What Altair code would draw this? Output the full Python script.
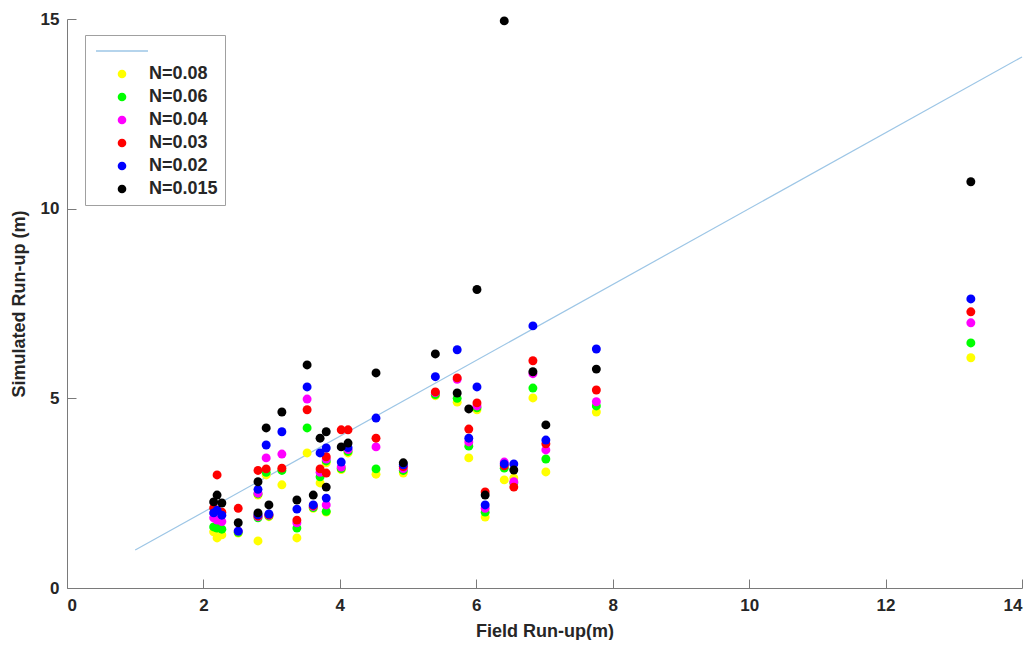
import altair as alt
import pandas as pd

# Field run-up (m) for each site
field_x = [2.15, 2.20, 2.27, 2.51, 2.80, 2.80, 2.92, 2.96, 3.15, 3.37, 3.52, 3.61, 3.71, 3.80, 3.80,
           4.02, 4.12, 4.53, 4.93, 5.40, 5.72, 5.89, 6.01, 6.13, 6.41, 6.55, 6.83, 7.02, 7.76, 13.25]

# Simulated run-up (m) for each Manning N
n_008 = [1.48, 1.32, 1.40, 1.45, 2.45, 1.24, 2.98, 1.88, 2.72, 1.32, 3.56, 2.10, 2.77, 3.30, 2.00,
         3.12, 3.56, 3.00, 3.03, 5.07, 4.90, 3.43, 4.70, 1.87, 2.85, 2.90, 5.01, 3.06, 4.64, 6.07]
n_006 = [1.61, 1.58, 1.55, 1.47, 2.48, 1.85, 3.05, 1.90, 3.10, 1.58, 4.22, 2.12, 2.93, 3.35, 2.02,
         3.15, 3.60, 3.14, 3.10, 5.10, 5.00, 3.74, 4.75, 2.00, 3.16, 2.77, 5.27, 3.40, 4.80, 6.46]
n_004 = [1.85, 1.79, 1.75, 1.50, 2.50, 1.88, 3.43, 1.92, 3.53, 1.72, 4.98, 2.15, 3.05, 3.40, 2.19,
         3.19, 3.65, 3.72, 3.15, 5.15, 5.50, 3.85, 4.80, 2.10, 3.32, 2.80, 5.65, 3.64, 4.91, 6.99]
n_003 = [2.11, 2.98, 2.00, 2.10, 3.10, 1.90, 3.14, 1.93, 3.16, 1.79, 4.70, 2.17, 3.14, 3.46, 3.03,
         4.17, 4.17, 3.95, 3.20, 5.17, 5.54, 4.19, 4.88, 2.53, 3.22, 2.66, 5.99, 3.80, 5.22, 7.28]
n_002 = [1.98, 2.05, 1.92, 1.50, 2.60, 1.93, 3.77, 1.95, 4.12, 2.08, 5.30, 2.19, 3.56, 3.69, 2.37,
         3.32, 3.70, 4.48, 3.25, 5.57, 6.28, 3.95, 5.30, 2.19, 3.27, 3.27, 6.91, 3.90, 6.30, 7.62]
n_0015 = [2.27, 2.45, 2.24, 1.72, 2.80, 1.98, 4.22, 2.19, 4.64, 2.32, 5.88, 2.45, 3.95, 4.12, 2.66,
          3.72, 3.82, 5.67, 3.30, 6.17, 5.14, 4.72, 7.87, 2.45, 14.95, 3.11, 5.70, 4.30, 5.77, 10.71]

series_names = ["N=0.08", "N=0.06", "N=0.04", "N=0.03", "N=0.02", "N=0.015"]
series_colors = ["#FFFF00", "#00FF00", "#FF00FF", "#FF0000", "#0000FF", "#000000"]
line_color = "#9DC6E6"

# 1:1 reference line
line_x = [1, 14]
line_y = [1, 14]

x_ticks = [0, 2, 4, 6, 8, 10, 12, 14]
y_ticks = [0, 5, 10, 15]

rows = []
for name, vals in zip(series_names, [n_008, n_006, n_004, n_003, n_002, n_0015]):
    for fx, v in zip(field_x, vals):
        rows.append({"field": fx, "sim": v, "series": name, "order": len(rows)})
pts = pd.DataFrame(rows)
line_df = pd.DataFrame({"field": line_x, "sim": line_y})

W, H = 955, 569
FONT = "Liberation Sans"
TXT = "#262626"
AX = "#7a7a7a"

xscale = alt.Scale(domain=[0, 14], nice=False, zero=False)
yscale = alt.Scale(domain=[0, 15], nice=False, zero=False)

xaxis = alt.Axis(values=x_ticks, format="d", title="Field Run-up(m)", ticks=False, grid=False,
                 labelPadding=9, titlePadding=9, orient="bottom")
yaxis = alt.Axis(values=y_ticks, format="d", title="Simulated Run-up (m)", ticks=False, grid=False,
                 labelPadding=8, titlePadding=12, orient="left")

# extra axes moved onto the plot edges so their ticks point inward (MATLAB style)
xtick_axis = alt.Axis(values=x_ticks, orient="top", offset=-H, domain=False, labels=False,
                      ticks=True, tickSize=9, tickColor=AX, tickWidth=1, grid=False, title=None)
ytick_axis = alt.Axis(values=y_ticks, orient="right", offset=-W, domain=False, labels=False,
                      ticks=True, tickSize=9, tickColor=AX, tickWidth=1, grid=False, title=None)

line_path = "M-6,-0.17L6,-0.17L6,0.17L-6,0.17Z"
dom = [""] + series_names
col_range = [line_color] + series_colors
shape_range = [line_path] + ["circle"] * 6

legend = alt.Legend(title=None, orient="none", legendX=18, legendY=16,
                    strokeColor="#a0a0a0", fillColor="white", padding=7,
                    symbolOffset=21, labelOffset=18, rowPadding=5,
                    symbolSize=75, symbolStrokeWidth=0,
                    labelFont=FONT, labelFontSize=18, labelFontWeight="bold",
                    labelColor=TXT, labelLimit=300)

line = alt.Chart(line_df).mark_line(color=line_color, strokeWidth=1.2).encode(
    x=alt.X("field:Q", scale=xscale, axis=xaxis),
    y=alt.Y("sim:Q", scale=yscale, axis=yaxis),
)

tick_layer = alt.Chart(line_df).mark_line(opacity=0).encode(
    x=alt.X("field:Q", scale=xscale, axis=xtick_axis),
    y=alt.Y("sim:Q", scale=yscale, axis=ytick_axis),
)

points = alt.Chart(pts).mark_point(filled=True, size=80, opacity=1).encode(
    x=alt.X("field:Q", scale=xscale, axis=None),
    y=alt.Y("sim:Q", scale=yscale, axis=None),
    color=alt.Color("series:N", scale=alt.Scale(domain=dom, range=col_range), legend=legend),
    shape=alt.Shape("series:N", scale=alt.Scale(domain=dom, range=shape_range), legend=legend),
    order=alt.Order("order:Q"),
)

chart = alt.layer(line, tick_layer, points).resolve_axis(
    x="independent", y="independent"
).properties(
    width=W, height=H,
    autosize=alt.AutoSizeParams(type="none"),
    padding={"left": 59, "top": 11, "right": 5, "bottom": 52},
).configure_view(stroke=None).configure_axis(
    domainColor=AX, domainWidth=1,
    labelFont=FONT, labelFontSize=17, labelFontWeight="bold", labelColor=TXT,
    titleFont=FONT, titleFontSize=18, titleFontWeight="bold", titleColor=TXT,
)

chart.save("out.html", embed_options={"renderer": "svg", "actions": False})
